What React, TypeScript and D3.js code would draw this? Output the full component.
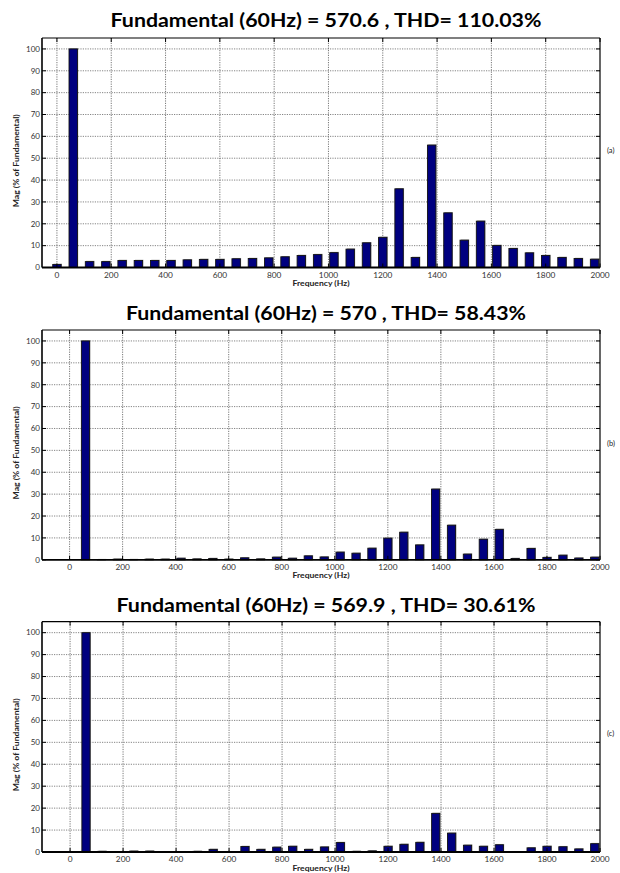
import React from 'react';
import * as d3 from 'd3';

const freqs = [0, 60, 120, 180, 240, 300, 360, 420, 480, 540, 600, 660, 720, 780, 840, 900, 960, 1020, 1080, 1140, 1200, 1260, 1320, 1380, 1440, 1500, 1560, 1620, 1680, 1740, 1800, 1860, 1920, 1980];

const magA = [1.4, 100, 2.7, 2.7, 3.2, 3.2, 3.2, 3.2, 3.5, 3.7, 3.7, 4.0, 4.1, 4.4, 4.9, 5.5, 5.9, 6.8, 8.4, 11.3, 13.8, 36, 4.6, 56, 25, 12.5, 21.2, 10.1, 8.7, 6.7, 5.5, 4.6, 4.1, 3.8];
const magB = [0, 100, 0.05, 0.3, 0.1, 0.3, 0.3, 0.7, 0.4, 0.6, 0.3, 0.9, 0.4, 1.2, 0.7, 1.8, 1.3, 3.5, 3.0, 5.3, 9.9, 12.6, 6.8, 32.3, 15.8, 2.6, 9.4, 13.9, 0.6, 5.2, 1.1, 2.1, 0.8, 1.2];
const magC = [0, 100, 0.3, 0.1, 0.4, 0.4, 0.1, 0.1, 0.3, 1.2, 0.1, 2.5, 1.2, 2.2, 2.6, 1.2, 2.3, 4.3, 0.3, 0.5, 2.6, 3.5, 4.4, 17.6, 8.6, 3.1, 2.6, 3.3, 0.1, 1.9, 2.6, 2.4, 1.4, 3.8];

const titles = [
  'Fundamental (60Hz) = 570.6 , THD= 110.03%',
  'Fundamental (60Hz) = 570 , THD= 58.43%',
  'Fundamental (60Hz) = 569.9 , THD= 30.61%',
];
const sideLabels = ['(a)', '(b)', '(c)'];
const xTicks = [0, 200, 400, 600, 800, 1000, 1200, 1400, 1600, 1800, 2000];
const yTicks = [0, 10, 20, 30, 40, 50, 60, 70, 80, 90, 100];
const xLabel = 'Frequency (Hz)';
const yLabel = 'Mag (% of Fundamental)';

const series = [magA, magB, magC];

// layout
const layout = [
  { xMin: -55, top: 38, zero: 267.5, titleY: 27.3, titleW: 431, sideY: 153 },
  { xMin: -104, top: 330, zero: 559.8, titleY: 320, titleW: 400, sideY: 446 },
  { xMin: -106, top: 621.7, zero: 852, titleY: 612.3, titleW: 419, sideY: 736 },
];

const LEFT = 42;
const RIGHT = 600;
const BAR_HZ = 31;
const FONT = 'Lato, "Open Sans", sans-serif';

function Panel({ idx }: { idx: number }) {
  const L = layout[idx];
  const data = series[idx];
  const x = d3.scaleLinear().domain([L.xMin, 2000]).range([LEFT, RIGHT]);
  const y = d3.scaleLinear().domain([0, 105]).range([L.zero, L.top]);
  const bw = x(BAR_HZ) - x(0);
  const cx = 326;
  const midY = (L.top + L.zero) / 2 + 8;
  return (
    <g>
      <text x={cx} y={L.titleY} textAnchor="middle" fontFamily={FONT} fontWeight="bold" fontSize={19.5}
        textLength={L.titleW} lengthAdjust="spacingAndGlyphs" fill="#000">{titles[idx]}</text>
      {/* grid */}
      {yTicks.filter(t => t > 0).map(t => (
        <line key={'gy' + t} x1={LEFT} x2={RIGHT} y1={y(t)} y2={y(t)} stroke="#666" strokeWidth={0.8} strokeDasharray="1.2,1.2" />
      ))}
      {xTicks.filter(t => t < 2000).map(t => (
        <line key={'gx' + t} x1={x(t)} x2={x(t)} y1={L.top} y2={L.zero} stroke="#555" strokeWidth={0.8} strokeDasharray="1.2,1.2" />
      ))}
      {/* bars */}
      {data.map((v, i) => {
        const x0 = x(freqs[i] - BAR_HZ / 2);
        const h = L.zero - y(v);
        return (
          <g key={'b' + i}>
            <rect x={x0 + 0.8} y={y(v) - 0.8} width={bw} height={h} fill="#aaa" />
            <rect x={x0} y={y(v)} width={bw} height={h} fill="#00007f" stroke="#111" strokeWidth={0.9} />
          </g>
        );
      })}
      {/* ticks */}
      {xTicks.map(t => (
        <g key={'tx' + t}>
          <line x1={x(t)} x2={x(t)} y1={L.zero} y2={L.zero - 4} stroke="#000" strokeWidth={1} />
          <line x1={x(t)} x2={x(t)} y1={L.top} y2={L.top + 4} stroke="#000" strokeWidth={1} />
          <text x={x(t)} y={L.zero + 10} textAnchor="middle" fontFamily={FONT} fontSize={8.3} fill="#333">{t}</text>
        </g>
      ))}
      {yTicks.map(t => (
        <g key={'ty' + t}>
          <line x1={LEFT} x2={LEFT + 4} y1={y(t)} y2={y(t)} stroke="#000" strokeWidth={1} />
          <line x1={RIGHT} x2={RIGHT - 4} y1={y(t)} y2={y(t)} stroke="#000" strokeWidth={1} />
          <text x={LEFT - 2} y={y(t) + 2.8} textAnchor="end" fontFamily={FONT} fontSize={8} fill="#333">{t}</text>
        </g>
      ))}
      {/* box */}
      <line x1={LEFT} x2={RIGHT} y1={L.top} y2={L.top} stroke="#000" strokeWidth={1.2} />
      <line x1={RIGHT} x2={RIGHT} y1={L.top} y2={L.zero} stroke="#000" strokeWidth={1.2} />
      <line x1={LEFT} x2={LEFT} y1={L.top} y2={L.zero} stroke="#000" strokeWidth={1.6} />
      <line x1={LEFT} x2={RIGHT} y1={L.zero} y2={L.zero} stroke="#000" strokeWidth={1.8} />
      {/* labels */}
      <text x={(LEFT + RIGHT) / 2} y={L.zero + 18.5} textAnchor="middle" fontFamily={FONT} fontWeight="bold" fontSize={8}
        textLength={57} lengthAdjust="spacingAndGlyphs" fill="#222">{xLabel}</text>
      <text transform={`translate(19,${midY}) rotate(-90)`} textAnchor="middle" fontFamily={FONT} fontWeight="bold" fontSize={8}
        textLength={93} lengthAdjust="spacingAndGlyphs" fill="#222">{yLabel}</text>
      <text x={607} y={L.sideY} fontFamily={FONT} fontSize={7.5} fill="#222">{sideLabels[idx]}</text>
    </g>
  );
}

export default function App() {
  return (
    <svg width={620} height={873} style={{ position: 'absolute', left: 0, top: 0, background: '#fff' }}>
      <rect x={0} y={0} width={620} height={873} fill="#fff" />
      {[0, 1, 2].map(i => <Panel key={i} idx={i} />)}
    </svg>
  );
}
